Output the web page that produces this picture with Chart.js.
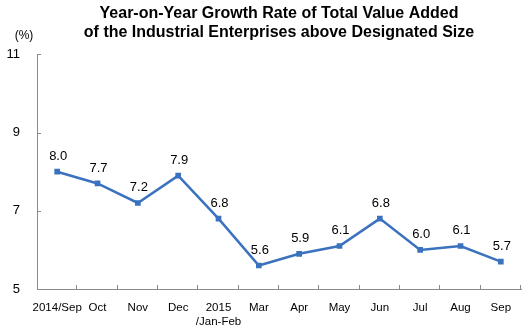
<!DOCTYPE html>
<html>
<head>
<meta charset="utf-8">
<script src="https://cdn.jsdelivr.net/npm/chart.js@4/dist/chart.umd.min.js"></script>
<style>
  html, body { margin: 0; padding: 0; background: #fff; }
  #wrap { width: 527px; height: 332px; }
</style>
</head>
<body>
<div id="wrap"><canvas id="growth"></canvas></div>
<script>
const months = ['2014/Sep', 'Oct', 'Nov', 'Dec', ['2015', '/Jan-Feb'], 'Mar', 'Apr', 'May', 'Jun', 'Jul', 'Aug', 'Sep']
const growthRate = [8.0, 7.7, 7.2, 7.9, 6.8, 5.6, 5.9, 6.1, 6.8, 6.0, 6.1, 5.7]
const yTicks = [5, 7, 9, 11]

const lineBlue = '#3a72bf'
const axisGrey = '#8a8a8a'
const sans = "'Liberation Sans', Arial, sans-serif"

// small tick marks pointing into the plot, value labels and the unit
const extras = {
    id: 'extras',
    afterDraw(chart) {
        const ctx = chart.ctx
        const y = chart.scales.y
        const area = chart.chartArea
        ctx.save()
        ctx.strokeStyle = axisGrey
        ctx.lineWidth = 1
        ctx.beginPath()
        yTicks.forEach(v => {
            const py = Math.round(y.getPixelForValue(v)) + 0.5
            ctx.moveTo(area.left, py)
            ctx.lineTo(area.left + 4, py)
        })
        const step = (area.right - area.left) / months.length
        for (let i = 1; i <= months.length; i++) {
            const px = Math.round(area.left + step * i) - 0.5
            ctx.moveTo(px, area.bottom)
            ctx.lineTo(px, area.bottom - 4)
        }
        ctx.stroke()

        ctx.fillStyle = '#000'
        ctx.font = '13px ' + sans
        ctx.textAlign = 'center'
        ctx.textBaseline = 'bottom'
        chart.getDatasetMeta(0).data.forEach((pt, i) => {
            ctx.fillText(growthRate[i].toFixed(1), pt.x + 1, pt.y - 9)
        })

        ctx.font = '12px ' + sans
        ctx.fillText('(%)', 24, 42)
        ctx.restore()
    }
}

new Chart(document.getElementById('growth'), {
    type: 'line',
    data: {
        labels: months,
        datasets: [{
            data: growthRate,
            borderColor: lineBlue,
            backgroundColor: lineBlue,
            borderWidth: 2.5,
            pointStyle: 'rect',
            pointRadius: 4,
            pointBorderWidth: 0,
            tension: 0,
            fill: false
        }]
    },
    options: {
        responsive: true,
        maintainAspectRatio: false,
        animation: false,
        devicePixelRatio: 1,
        layout: { padding: { left: 0, right: 6, top: 0, bottom: 0 } },
        plugins: {
            legend: { display: false },
            tooltip: { enabled: false },
            title: {
                display: true,
                fullSize: false,
                text: ['Year-on-Year Growth Rate of Total Value Added', 'of the Industrial Enterprises above Designated Size'],
                color: '#000',
                font: { family: sans, size: 16, weight: 'bold', lineHeight: 1.2 },
                padding: { top: 4, bottom: 12 }
            }
        },
        scales: {
            x: {
                offset: true,
                grid: { display: false, drawTicks: false },
                border: { color: axisGrey, width: 1 },
                ticks: {
                    color: '#000',
                    font: { family: sans, size: 11.5, lineHeight: 1.2 },
                    padding: 12,
                    maxRotation: 0,
                    autoSkip: false
                },
                afterFit(scale) { scale.height = 43 }
            },
            y: {
                min: 5,
                max: 11,
                afterBuildTicks(scale) { scale.ticks = yTicks.map(v => ({ value: v })) },
                grid: { display: false, drawTicks: false },
                border: { color: axisGrey, width: 1 },
                ticks: {
                    color: '#000',
                    font: { family: sans, size: 13 },
                    padding: 17
                },
                afterFit(scale) { scale.width = 37 }
            }
        }
    },
    plugins: [extras]
})
</script>
</body>
</html>
